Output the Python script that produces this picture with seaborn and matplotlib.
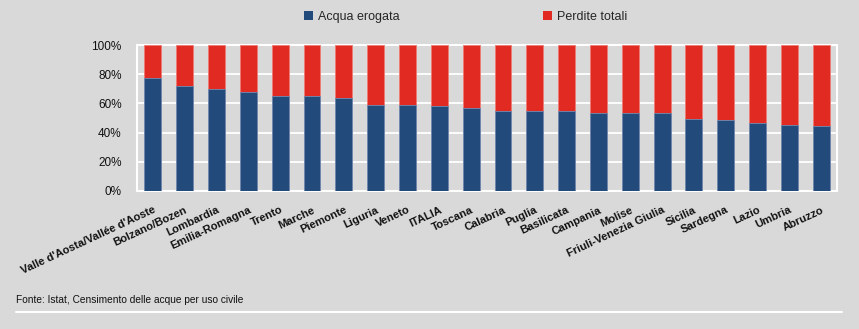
import matplotlib
matplotlib.use("Agg")
import matplotlib.pyplot as plt
import seaborn as sns
import pandas as pd
from matplotlib.lines import Line2D
from matplotlib.patches import Patch
from matplotlib.ticker import FuncFormatter

regions = ["Valle d'Aosta/Vallée d'Aoste", "Bolzano/Bozen", "Lombardia", "Emilia-Romagna",
           "Trento", "Marche", "Piemonte", "Liguria", "Veneto", "ITALIA", "Toscana",
           "Calabria", "Puglia", "Basilicata", "Campania", "Molise", "Friuli-Venezia Giulia",
           "Sicilia", "Sardegna", "Lazio", "Umbria", "Abruzzo"]
acqua_erogata = [77.6, 72.1, 69.8, 67.9, 65.2, 65.2, 63.8, 58.8, 58.8, 57.9, 57.0,
                 54.5, 54.5, 54.5, 53.5, 53.5, 53.5, 49.4, 48.7, 46.7, 45.1, 44.2]
perdite_totali = [22.4, 27.9, 30.2, 32.1, 34.8, 34.8, 36.2, 41.2, 41.2, 42.1, 43.0,
                  45.5, 45.5, 45.5, 46.5, 46.5, 46.5, 50.6, 51.3, 53.3, 54.9, 55.8]
yticks = [0, 20, 40, 60, 80, 100]

BG = "#d9d9d9"
BLUE = "#224a7a"
RED = "#e12a21"

sns.set_theme(style="white")
plt.rcParams['font.family'] = ['Liberation Sans', 'DejaVu Sans']

df = pd.DataFrame({"region": regions, "erogata": acqua_erogata, "perdite": perdite_totali})
df["totale"] = df["erogata"] + df["perdite"]

fig = plt.figure(figsize=(8.59, 3.29), dpi=100, facecolor=BG)
ax = fig.add_axes([0.1595, 0.4195, 0.815, 0.4437])
ax.set_facecolor(BG)

sns.barplot(data=df, x="region", y="totale", color=RED, saturation=1, width=0.53,
            edgecolor="#ee7a72", linewidth=0.6, ax=ax, zorder=3)
sns.barplot(data=df, x="region", y="erogata", color=BLUE, saturation=1, width=0.53,
            edgecolor="#6f8db5", linewidth=0.6, ax=ax, zorder=4)

ax.set_ylim(0, 100)
ax.set_yticks(yticks)
ax.yaxis.set_major_formatter(FuncFormatter(lambda v, p: f"{int(v)}%"))
ax.set_xlim(-0.5, len(regions) - 0.5)
ax.grid(axis="y", color="white", linewidth=1.3, zorder=0)
ax.set_axisbelow(True)
for s in ax.spines.values():
    s.set_color("white")
    s.set_linewidth(1.5)
ax.set_xlabel("")
ax.set_ylabel("")
ax.tick_params(axis="y", length=0, labelsize=8.5, colors="#111111", pad=11)
ax.tick_params(axis="x", length=0, labelsize=8, colors="#111111", pad=10)
for lab in ax.get_xticklabels():
    lab.set_rotation(25)
    lab.set_ha("right")
    lab.set_rotation_mode("anchor")
    lab.set_fontweight("bold")

handles = [Patch(facecolor=BLUE, edgecolor="none", label="Acqua erogata"),
           Patch(facecolor=RED, edgecolor="none", label="Perdite totali")]
fig.legend(handles=handles, loc="center", bbox_to_anchor=(0.542, 0.948), ncol=2,
           frameon=False, fontsize=9, handlelength=0.7, handleheight=0.7,
           handletextpad=0.4, columnspacing=11.5)

fig.text(16 / 859, 1 - 300 / 329, "Fonte: Istat, Censimento delle acque per uso civile",
         fontsize=7.3, color="#111111", va="center", ha="left")
fig.add_artist(Line2D([16 / 859, 842 / 859], [1 - 312 / 329, 1 - 312 / 329],
                      color="white", linewidth=1.5, transform=fig.transFigure))

fig.savefig("out.png", dpi=100, facecolor=BG)
